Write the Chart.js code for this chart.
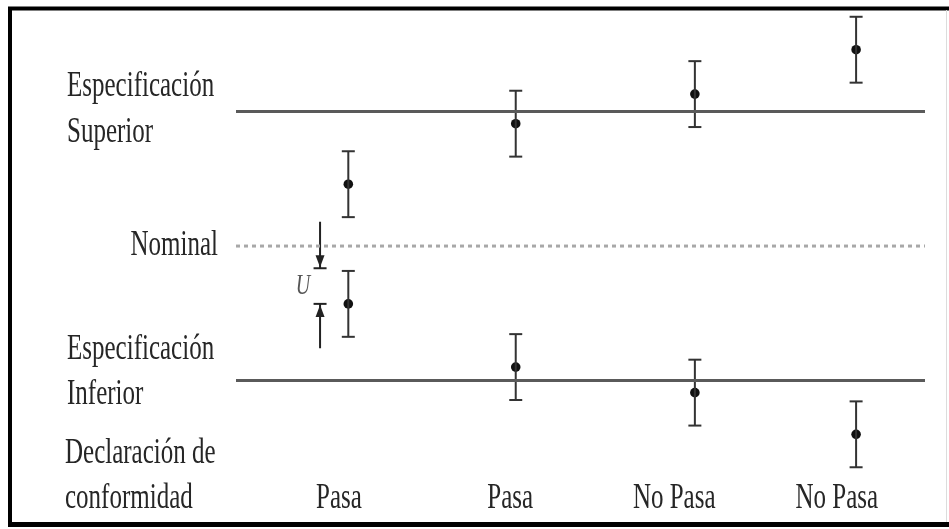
<!DOCTYPE html>
<html>
<head>
<meta charset="utf-8">
<script src="https://cdn.jsdelivr.net/npm/chart.js@4.4.1/dist/chart.umd.min.js"></script>
<style>
  html, body { margin: 0; padding: 0; background: #ffffff; }
  #wrap { width: 949px; height: 529px; position: relative; }
</style>
</head>
<body>
<div id="wrap"><canvas id="c"></canvas></div>
<script>
// ---- data ----
const columnX       = [16.3, 40.6, 66.6, 90.0];     // horizontal position of each measurement column
const upperResults  = [4.6, 9.1, 11.3, 14.6];       // upper measurement in each column
const lowerResults  = [-4.3, -9.0, -10.9, -14.0];   // lower measurement in each column
const uncertainty   = 2.45;                         // U (half-width of each interval)
const specUpper     = 10;
const nominalValue  = 0;
const specLower     = -10;
const verdicts      = ['Pasa', 'Pasa', 'No Pasa', 'No Pasa'];
const verdictX      = [14.95, 39.8, 63.6, 87.2];
const upperLabel    = ['Especificación', 'Superior'];
const nominalLabel  = ['Nominal'];
const lowerLabel    = ['Especificación', 'Inferior'];
const verdictTitle  = ['Declaración de', 'conformidad'];
const uLabel        = 'U';
const uMarkerX      = 12.2;
const uMarkerValues = [1.8, -1.65, -4.3, -7.6];     // shaft top, upper cap, lower cap, shaft bottom
const xRange        = [0, 100];
const yRange        = [-20, 18];

// ---- build datasets ----
function hLine(v) { return [{ x: xRange[0], y: v }, { x: xRange[1], y: v }]; }
const allCentres = [];
columnX.forEach((x, i) => {
  allCentres.push({ x: x, y: upperResults[i] });
  allCentres.push({ x: x, y: lowerResults[i] });
});
const stems = [];
const caps = [];
allCentres.forEach(p => {
  stems.push({ x: p.x, y: p.y + uncertainty });
  stems.push({ x: p.x, y: p.y - uncertainty });
  stems.push({ x: p.x, y: null });
  caps.push({ x: p.x, y: p.y + uncertainty });
  caps.push({ x: p.x, y: p.y - uncertainty });
});
const uShafts = [
  { x: uMarkerX, y: uMarkerValues[0] }, { x: uMarkerX, y: uMarkerValues[1] }, { x: uMarkerX, y: null },
  { x: uMarkerX, y: uMarkerValues[2] }, { x: uMarkerX, y: uMarkerValues[3] }
];
const uCaps = [{ x: uMarkerX, y: uMarkerValues[1] }, { x: uMarkerX, y: uMarkerValues[2] }];

const INK = '#262626';
const FONT = '"Liberation Serif", "Times New Roman", serif';
const VSTRETCH = 1.42;

function drawStretched(ctx, str, x, baseline, align, size, italic, color) {
  ctx.save();
  ctx.translate(x, baseline);
  ctx.scale(1, VSTRETCH);
  ctx.font = (italic ? 'italic ' : '') + size + 'px ' + FONT;
  ctx.textAlign = align;
  ctx.textBaseline = 'alphabetic';
  ctx.fillStyle = color || INK;
  ctx.fillText(str, 0, 0);
  ctx.restore();
}

const decorations = {
  id: 'decorations',
  afterDatasetsDraw(chart) {
    const ctx = chart.ctx;
    const xs = chart.scales.x, ys = chart.scales.y;
    // arrowheads of the U marker
    const px = xs.getPixelForValue(uMarkerX);
    const yHi = ys.getPixelForValue(uMarkerValues[1]);
    const yLo = ys.getPixelForValue(uMarkerValues[2]);
    ctx.save();
    ctx.fillStyle = '#222';
    ctx.beginPath();
    ctx.moveTo(px, yHi - 1); ctx.lineTo(px - 4.5, yHi - 13); ctx.lineTo(px + 4.5, yHi - 13); ctx.closePath();
    ctx.fill();
    ctx.beginPath();
    ctx.moveTo(px, yLo + 1); ctx.lineTo(px - 4.5, yLo + 13); ctx.lineTo(px + 4.5, yLo + 13); ctx.closePath();
    ctx.fill();
    ctx.restore();
    // U label
    drawStretched(ctx, uLabel, px - 17, (yHi + yLo) / 2 + 8, 'center', 20, true, '#555');

    // left-side labels
    const yU = ys.getPixelForValue(specUpper);
    const yN = ys.getPixelForValue(nominalValue);
    const yL = ys.getPixelForValue(specLower);
    drawStretched(ctx, upperLabel[0], 67, yU - 16, 'left', 25);
    drawStretched(ctx, upperLabel[1], 67, yU + 30, 'left', 25);
    drawStretched(ctx, nominalLabel[0], 218, yN + 9, 'right', 25);
    drawStretched(ctx, lowerLabel[0], 67, yL - 22, 'left', 25);
    drawStretched(ctx, lowerLabel[1], 67, yL + 23, 'left', 25);
    drawStretched(ctx, verdictTitle[0], 65, 463, 'left', 25);
    drawStretched(ctx, verdictTitle[1], 65, 508, 'left', 25);
    verdicts.forEach((v, i) => {
      drawStretched(ctx, v, xs.getPixelForValue(verdictX[i]), 508, 'center', 25);
    });
  },
  afterDraw(chart) {
    const ctx = chart.ctx;
    ctx.save();
    ctx.strokeStyle = '#000';
    ctx.lineWidth = 4;
    ctx.beginPath();
    ctx.moveTo(949, 8.5); ctx.lineTo(10, 8.5); ctx.lineTo(10, 524); ctx.lineTo(949, 524);
    ctx.stroke();
    ctx.lineWidth = 5;
    ctx.beginPath(); ctx.moveTo(8, 524.5); ctx.lineTo(949, 524.5); ctx.stroke();
    ctx.strokeStyle = '#dcdcdc';
    ctx.lineWidth = 1;
    ctx.beginPath(); ctx.moveTo(946.5, 10); ctx.lineTo(946.5, 522); ctx.stroke();
    ctx.restore();
  }
};

new Chart(document.getElementById('c'), {
  type: 'scatter',
  data: {
    datasets: [
      { type: 'line', data: hLine(specUpper), borderColor: '#5a5a5a', borderWidth: 3, pointRadius: 0 },
      { type: 'line', data: hLine(nominalValue), borderColor: '#a8a8a8', borderWidth: 3, borderDash: [4, 4], pointRadius: 0 },
      { type: 'line', data: hLine(specLower), borderColor: '#5a5a5a', borderWidth: 3, pointRadius: 0 },
      { type: 'line', data: stems, borderColor: '#333', borderWidth: 2, pointRadius: 0, spanGaps: false },
      { type: 'scatter', data: caps, pointStyle: 'line', pointRadius: 6.5, borderColor: '#333', borderWidth: 2 },
      { type: 'scatter', data: allCentres, pointStyle: 'circle', pointRadius: 4.8, backgroundColor: '#111', borderColor: '#111', borderWidth: 0 },
      { type: 'line', data: uShafts, borderColor: '#222', borderWidth: 2, pointRadius: 0, spanGaps: false },
      { type: 'scatter', data: uCaps, pointStyle: 'line', pointRadius: 6.5, borderColor: '#222', borderWidth: 2 }
    ]
  },
  options: {
    responsive: true,
    maintainAspectRatio: false,
    animation: false,
    devicePixelRatio: 1,
    clip: false,
    layout: { autoPadding: false, padding: { left: 236, right: 24, top: 4, bottom: 14 } },
    elements: { line: { tension: 0 } },
    plugins: { legend: { display: false }, tooltip: { enabled: false } },
    events: [],
    scales: {
      x: { type: 'linear', min: xRange[0], max: xRange[1], display: false },
      y: { type: 'linear', min: yRange[0], max: yRange[1], display: false }
    }
  },
  plugins: [decorations]
});
</script>
</body>
</html>
